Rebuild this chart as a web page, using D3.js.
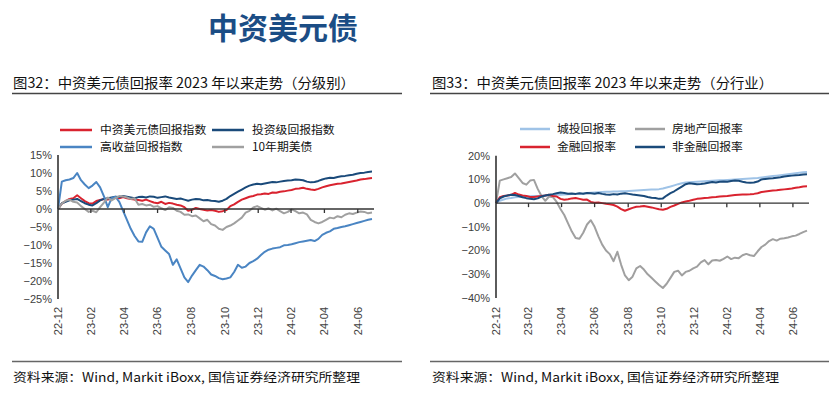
<!DOCTYPE html>
<html><head><meta charset="utf-8">
<script src="https://cdn.jsdelivr.net/npm/d3@7"></script>
<style>
html,body{margin:0;padding:0;background:#fff;}
svg{display:block;}
</style></head>
<body>
<svg id="c" width="837" height="398"></svg>
<script>
// ---------- DATA ----------
const startDate = "2022-12-30";   // weekly observations through 2024-07-26
const weekCount = 83;
const tickDates = ["2022-12-30","2023-02-28","2023-04-30","2023-06-30","2023-08-31","2023-10-31","2023-12-31","2024-02-29","2024-04-30","2024-06-30"];
const tickLabels = ["22-12","23-02","23-04","23-06","23-08","23-10","23-12","24-02","24-04","24-06"];

// Figure 32 (by rating), %
const leftNames = ["中资美元债回报指数","投资级回报指数","高收益回报指数","10年期美债"];
const allIndex = [0,1.5,2.2,2.8,3.0,3.8,3.0,2.2,1.6,1.5,2.2,2.5,2.8,2.6,2.9,3.2,3.0,3.3,3.0,2.8,2.6,2.5,2.3,2.6,2.2,1.8,1.6,2.0,1.4,1.7,1.5,1.2,1.0,0.5,-0.5,-0.2,0.3,0.0,-0.2,-0.4,-0.3,-0.5,-0.8,-0.6,-0.3,0.8,1.3,2.0,2.6,3.0,3.4,3.6,4.0,4.1,4.3,4.2,4.6,4.5,4.8,4.9,5.1,5.3,5.6,5.7,5.9,5.6,5.4,5.3,5.6,6.0,6.3,6.6,6.8,7.0,7.1,7.3,7.5,7.7,7.9,8.2,8.3,8.5,8.6];
const igIndex = [0,1.6,2.0,2.4,2.6,2.8,2.2,1.6,1.2,1.0,1.6,2.4,2.8,3.0,3.2,3.4,3.3,3.6,3.4,3.2,3.0,3.3,3.4,3.2,3.5,3.4,3.1,3.3,3.5,3.2,3.0,2.8,2.9,2.6,2.3,2.6,2.8,2.7,2.4,2.5,2.3,2.2,2.0,2.3,2.8,3.6,4.2,4.8,5.4,6.0,6.5,6.8,7.0,6.9,7.1,7.3,7.5,7.4,7.6,7.8,7.9,8.0,8.2,8.1,8.0,7.6,7.4,7.5,7.8,8.2,8.5,8.7,8.6,8.9,9.1,9.2,9.4,9.5,9.8,10.0,10.1,10.3,10.4];
const hyIndex = [0,7.6,8.0,8.2,8.6,10.0,8.0,6.8,5.8,6.5,7.5,6.0,3.5,0.5,3.0,3.4,2.0,-0.5,-3.0,-5.5,-7.5,-9.0,-9.1,-6.5,-4.8,-5.5,-8.0,-10.5,-11.5,-12.5,-15.5,-14.0,-16.5,-19.0,-20.3,-18.5,-17.0,-15.5,-16.0,-17.0,-18.2,-18.6,-19.2,-19.5,-19.3,-19.0,-17.5,-15.5,-16.3,-16.0,-15.0,-14.5,-13.8,-12.8,-11.9,-11.3,-11.0,-10.8,-10.6,-10.1,-10.0,-9.8,-9.5,-9.2,-9.0,-8.8,-8.6,-8.9,-8.3,-7.2,-6.6,-6.2,-5.5,-5.3,-5.0,-4.8,-4.5,-4.2,-3.9,-3.6,-3.3,-3.0,-2.8];
const ust10y = [0,1.5,2.3,2.6,2.0,1.8,0.8,0.0,-0.8,-0.5,-0.9,0.5,1.8,3.2,2.4,3.0,3.6,3.5,3.2,2.8,3.0,1.2,1.4,1.0,1.2,0.6,0.8,0.2,-0.3,0.5,0.3,-0.5,-0.8,-1.6,-1.5,-2.0,-1.8,-2.6,-3.4,-3.0,-4.2,-4.6,-5.5,-5.8,-5.0,-4.6,-4.0,-3.2,-2.4,-1.0,-0.5,0.4,0.8,0.3,-0.2,0.2,-0.4,0.1,-0.6,-1.2,-0.8,-0.1,-0.6,-1.2,-1.0,-1.5,-3.0,-3.6,-4.0,-3.6,-3.0,-2.4,-2.6,-2.0,-2.3,-1.6,-1.2,-1.4,-1.0,-0.7,-0.8,-1.2,-1.0];

// Figure 33 (by sector), %
const rightNames = ["城投回报率","房地产回报率","金融回报率","非金融回报率"];
const lgfv = [0,1.0,1.5,2.0,2.2,2.5,2.6,2.7,2.8,2.9,3.0,3.0,3.1,3.2,3.3,3.4,3.5,3.5,3.6,3.7,3.8,3.9,4.0,4.1,4.3,4.4,4.5,4.6,4.7,4.8,4.8,4.9,4.9,5.0,5.0,5.1,5.2,5.3,5.4,5.5,5.6,5.7,5.8,5.9,6.2,6.6,7.0,7.5,8.0,8.4,8.7,8.8,8.9,9.0,9.1,9.2,9.3,9.4,9.5,9.6,9.7,9.8,9.9,10.0,10.1,10.2,10.3,10.4,10.5,10.6,10.8,11.0,11.2,11.4,11.6,11.8,12.0,12.2,12.4,12.6,12.8,13.0,13.1];
const realEstate = [0,9.5,10.0,10.5,11.0,12.5,10.5,8.5,7.8,9.5,9.8,6.0,3.0,1.0,2.8,2.5,0.5,-2.5,-5.0,-8.5,-12.0,-14.7,-15.0,-12.5,-9.0,-7.2,-10.0,-14.0,-17.5,-20.0,-21.5,-24.5,-20.5,-26.0,-30.5,-32.5,-31.0,-27.5,-26.5,-28.0,-30.0,-31.5,-33.0,-34.5,-35.8,-34.0,-31.5,-29.0,-28.5,-30.5,-29.0,-28.5,-27.5,-26.8,-25.0,-24.0,-25.8,-24.2,-24.0,-24.3,-23.5,-22.5,-23.6,-23.0,-23.2,-22.0,-21.4,-22.0,-22.3,-20.3,-18.5,-17.5,-16.0,-15.2,-15.8,-15.0,-14.8,-14.5,-14.0,-13.7,-13.0,-12.2,-11.6];
const financial = [0,2.5,3.0,3.2,3.5,4.3,3.6,3.2,3.0,2.6,2.6,2.8,3.0,3.2,3.5,3.0,2.8,1.8,1.4,1.6,2.0,2.2,1.8,1.4,1.5,0.5,0.2,0.3,0.0,-0.3,-0.5,-0.8,-1.5,-2.5,-3.2,-2.6,-2.0,-1.5,-1.4,-1.2,-1.5,-1.8,-2.2,-2.6,-2.8,-2.4,-1.6,-1.0,-0.3,0.3,0.7,1.0,1.4,1.8,2.0,2.2,2.3,2.5,2.6,2.8,2.9,3.0,3.2,3.4,3.5,3.6,3.6,3.7,3.9,4.2,4.7,4.9,5.1,5.3,5.4,5.6,5.8,6.0,6.2,6.5,6.7,7.0,7.1];
const nonFinancial = [0,2.0,2.8,3.2,3.5,3.4,3.0,2.5,2.1,1.8,1.6,2.0,2.8,3.2,3.5,3.8,4.2,4.5,4.3,4.0,4.1,3.9,4.2,4.0,4.3,4.2,4.0,4.3,3.9,3.6,3.5,3.8,3.6,4.0,4.2,3.9,3.6,3.4,3.2,3.0,2.6,2.3,2.2,1.8,2.0,3.2,4.2,5.0,6.0,7.0,8.0,8.4,8.2,8.0,8.1,8.3,8.6,8.9,8.7,9.0,9.1,9.0,9.3,9.5,9.4,9.0,8.7,8.6,8.7,9.1,10.0,10.2,10.4,10.5,10.7,10.9,11.2,11.4,11.6,11.8,11.9,12.1,12.2];

const leftTicks = [15,10,5,0,-5,-10,-15,-20,-25];
const rightTicks = [20,10,0,-10,-20,-30,-40];

// ---------- DRAW ----------
const svg = d3.select("#c");
const parse = d3.timeParse("%Y-%m-%d");
const t0 = parse(startDate);
const dates = d3.range(weekCount).map(i => d3.timeDay.offset(t0, 7*i));
const tDates = tickDates.map(parse);
const CJK = "'Noto Sans CJK SC','Noto Sans',sans-serif";
const LAT = "'Liberation Sans',Arial,sans-serif";
const fmtPct = v => (v < 0 ? "\u2212" + Math.abs(v) : v) + "%";

// main title
svg.append("text").attr("x",208).attr("y",39).text("中资美元债")
  .attr("font-family",CJK).attr("font-weight","bold").attr("font-size",30)
  .attr("fill","#1b4d85");

function panel(cfg){
  const g = svg.append("g");
  // caption
  g.append("text").attr("x",cfg.capX).attr("y",88).text(cfg.caption)
    .attr("font-family",CJK).attr("font-size",14).attr("fill","#111")
    .attr("textLength",cfg.capLen).attr("lengthAdjust","spacingAndGlyphs");
  g.append("line").attr("x1",cfg.ruleX1).attr("x2",cfg.ruleX2).attr("y1",93.5).attr("y2",93.5)
    .attr("stroke","#444").attr("stroke-width",1.6);
  // footer
  g.append("line").attr("x1",cfg.ruleX1).attr("x2",cfg.ruleX2).attr("y1",361.5).attr("y2",361.5)
    .attr("stroke","#666").attr("stroke-width",1.4);
  g.append("text").attr("x",cfg.capX).attr("y",382).text("资料来源：Wind, Markit iBoxx, 国信证券经济研究所整理")
    .attr("font-family",CJK).attr("font-size",12.5).attr("fill","#111")
    .attr("textLength",347).attr("lengthAdjust","spacingAndGlyphs");

  const x = d3.scaleTime().domain([dates[0], dates[dates.length-1]]).range(cfg.xr);
  const y = d3.scaleLinear().domain(cfg.yd).range(cfg.yr);

  // y labels
  g.selectAll(".yl").data(cfg.yticks).join("text")
    .attr("x",cfg.xr[0]-6).attr("y",d=>y(d)).attr("dy","0.35em")
    .attr("text-anchor","end").attr("font-family",LAT).attr("font-size",11)
    .attr("fill","#404040").text(fmtPct);
  // x labels (rotated)
  g.selectAll(".xl").data(tDates).join("text")
    .attr("transform",d=>`translate(${x(d)},307) rotate(-90)`)
    .attr("dy","0.35em").attr("text-anchor","end")
    .attr("font-family",LAT).attr("font-size",11).attr("fill","#404040")
    .text((d,i)=>tickLabels[i]);

  // series
  const line = d3.line().x((d,i)=>x(dates[i])).y(d=>y(d));
  cfg.series.forEach(s=>{
    g.append("path").datum(s.values).attr("d",line)
      .attr("fill","none").attr("stroke",s.color).attr("stroke-width",2)
      .attr("stroke-linejoin","round");
  });

  // axes
  const y0 = y(0);
  g.append("line").attr("x1",cfg.xr[0]).attr("x2",cfg.xr[1]+2).attr("y1",y0).attr("y2",y0)
    .attr("stroke","#333").attr("stroke-width",1.3);
  g.selectAll(".xt").data(tDates.slice(1)).join("line")
    .attr("x1",d=>x(d)).attr("x2",d=>x(d)).attr("y1",y0).attr("y2",y0+4)
    .attr("stroke","#333").attr("stroke-width",1.3);
  g.append("line").attr("x1",cfg.xr[0]).attr("x2",cfg.xr[0]).attr("y1",cfg.yr[1]).attr("y2",cfg.yr[0])
    .attr("stroke","#333").attr("stroke-width",1.6);

  // legend
  cfg.series.forEach((s,i)=>{
    const col = i % 2, row = Math.floor(i/2);
    const lx = cfg.legX[col], ly = cfg.legY[row];
    g.append("line").attr("x1",lx).attr("x2",lx+cfg.legW).attr("y1",ly).attr("y2",ly)
      .attr("stroke",s.color).attr("stroke-width",2.5);
    g.append("text").attr("x",lx+cfg.legW+cfg.legGap).attr("y",ly).attr("dy","0.35em")
      .attr("font-family",CJK).attr("font-size",11.8).attr("fill","#111").text(s.name);
  });
}

panel({
  caption:"图32：中资美元债回报率 2023 年以来走势（分级别）", capX:13, capLen:342,
  ruleX1:12, ruleX2:402,
  xr:[58,372], yd:[-25,15], yr:[299,155], yticks:leftTicks,
  legX:[60,212], legY:[130,147], legW:32, legGap:8,
  series:[
    {name:leftNames[0], values:allIndex, color:"#d9232f"},
    {name:leftNames[1], values:igIndex, color:"#1a4a7a"},
    {name:leftNames[2], values:hyIndex, color:"#4a85c3"},
    {name:leftNames[3], values:ust10y, color:"#a0a0a0"}
  ]
});

panel({
  caption:"图33：中资美元债回报率 2023 年以来走势（分行业）", capX:432, capLen:341,
  ruleX1:430, ruleX2:829,
  xr:[496,807], yd:[-40,20], yr:[298,155.7], yticks:rightTicks,
  legX:[520,635], legY:[129,147], legW:30, legGap:7,
  series:[
    {name:rightNames[0], values:lgfv, color:"#9fc3e7"},
    {name:rightNames[1], values:realEstate, color:"#a0a0a0"},
    {name:rightNames[2], values:financial, color:"#d9232f"},
    {name:rightNames[3], values:nonFinancial, color:"#1a4a7a"}
  ]
});
</script>
</body></html>
